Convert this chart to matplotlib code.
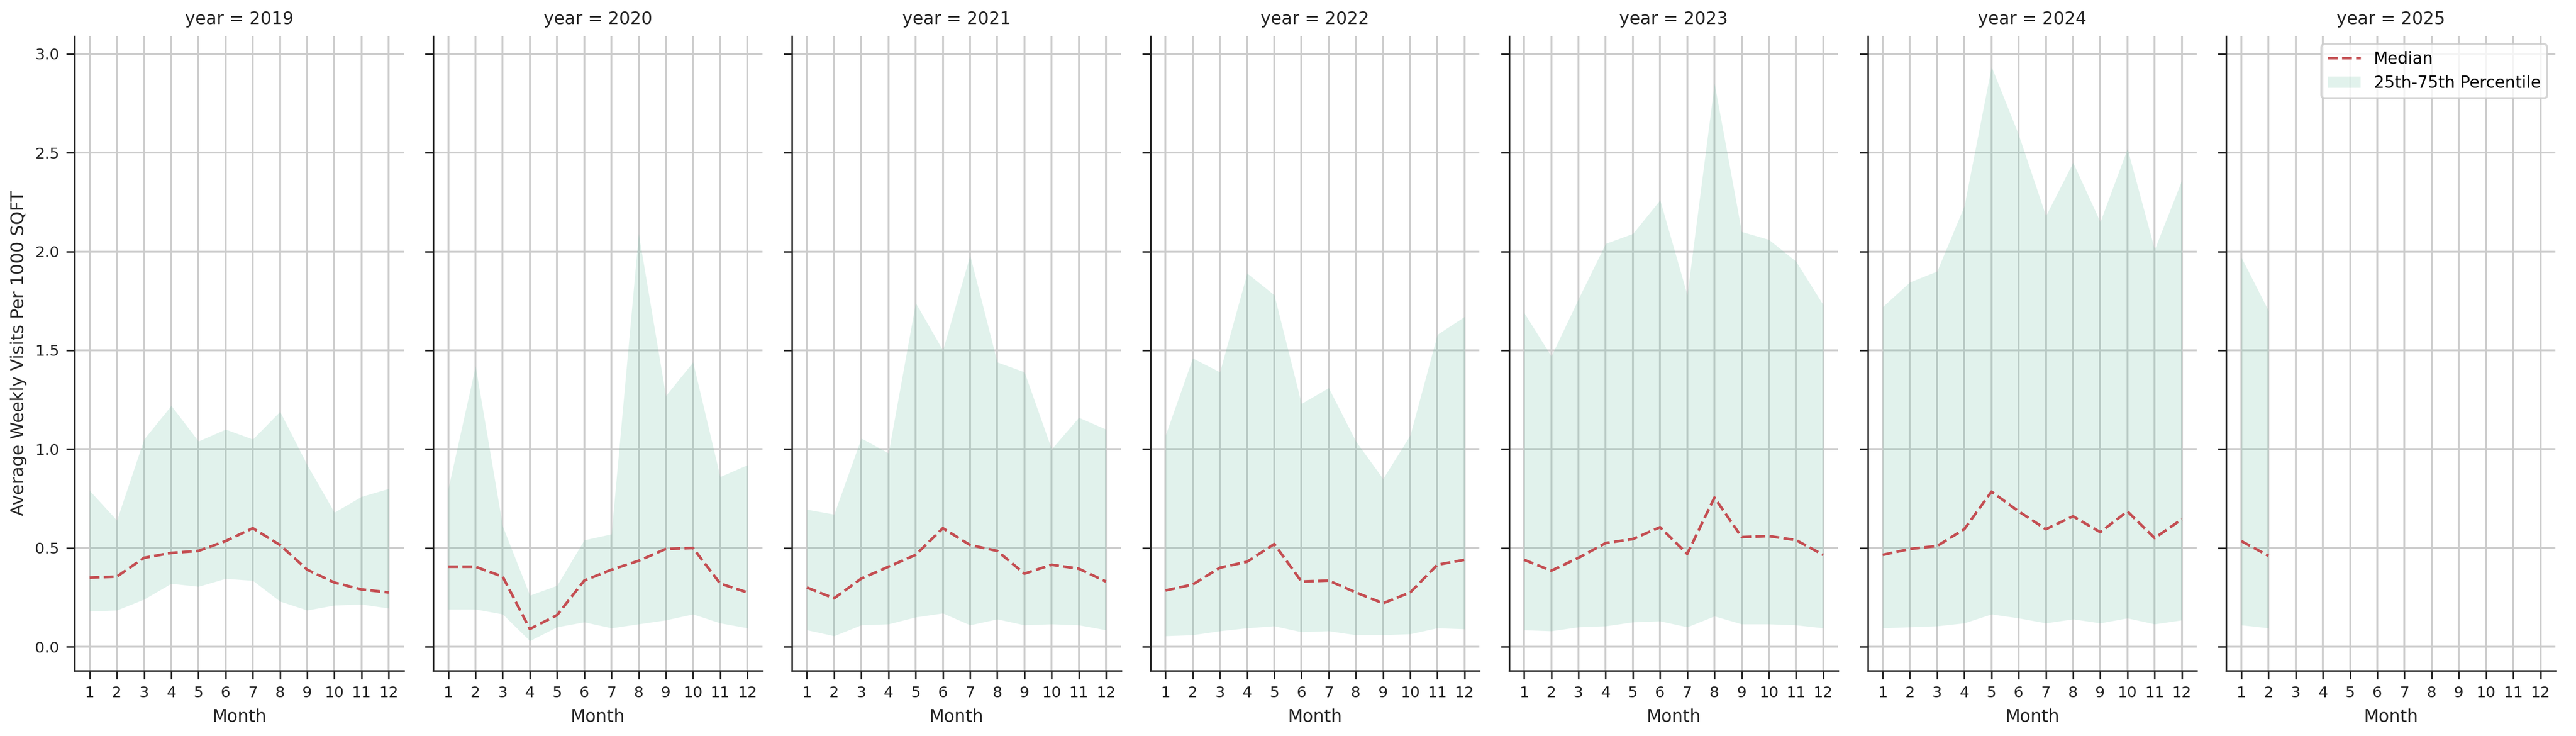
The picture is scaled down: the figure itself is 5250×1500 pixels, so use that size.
import numpy as np
import matplotlib.pyplot as plt

years = [2019, 2020, 2021, 2022, 2023, 2024, 2025]
months = list(range(1, 13))

median = {
    2019: [0.35, 0.355, 0.45, 0.475, 0.485, 0.535, 0.60, 0.515, 0.39, 0.325, 0.29, 0.275],
    2020: [0.405, 0.405, 0.355, 0.09, 0.16, 0.335, 0.39, 0.435, 0.495, 0.50, 0.32, 0.275],
    2021: [0.30, 0.245, 0.345, 0.405, 0.465, 0.60, 0.515, 0.485, 0.37, 0.415, 0.395, 0.33],
    2022: [0.285, 0.315, 0.40, 0.43, 0.52, 0.33, 0.335, 0.275, 0.22, 0.275, 0.415, 0.44],
    2023: [0.44, 0.385, 0.45, 0.525, 0.545, 0.605, 0.47, 0.755, 0.555, 0.56, 0.54, 0.465],
    2024: [0.465, 0.495, 0.51, 0.595, 0.785, 0.685, 0.595, 0.66, 0.58, 0.685, 0.55, 0.645],
    2025: [0.535, 0.46],
}
p25 = {
    2019: [0.18, 0.185, 0.24, 0.32, 0.305, 0.345, 0.335, 0.23, 0.185, 0.21, 0.215, 0.195],
    2020: [0.19, 0.19, 0.165, 0.03, 0.10, 0.125, 0.095, 0.115, 0.135, 0.165, 0.12, 0.095],
    2021: [0.085, 0.055, 0.11, 0.115, 0.15, 0.17, 0.11, 0.14, 0.11, 0.115, 0.11, 0.085],
    2022: [0.055, 0.06, 0.08, 0.095, 0.105, 0.075, 0.08, 0.06, 0.06, 0.065, 0.095, 0.09],
    2023: [0.085, 0.08, 0.10, 0.105, 0.125, 0.13, 0.10, 0.155, 0.115, 0.115, 0.11, 0.095],
    2024: [0.095, 0.10, 0.105, 0.12, 0.165, 0.145, 0.12, 0.14, 0.12, 0.145, 0.115, 0.135],
    2025: [0.11, 0.095],
}
p75 = {
    2019: [0.79, 0.64, 1.05, 1.22, 1.04, 1.10, 1.05, 1.19, 0.92, 0.68, 0.76, 0.80],
    2020: [0.80, 1.42, 0.61, 0.26, 0.31, 0.54, 0.57, 2.09, 1.27, 1.44, 0.86, 0.92],
    2021: [0.695, 0.67, 1.055, 0.98, 1.74, 1.50, 1.98, 1.44, 1.39, 1.00, 1.16, 1.10],
    2022: [1.07, 1.46, 1.39, 1.89, 1.78, 1.23, 1.31, 1.04, 0.85, 1.07, 1.58, 1.67],
    2023: [1.69, 1.47, 1.76, 2.04, 2.09, 2.26, 1.78, 2.85, 2.10, 2.06, 1.95, 1.73],
    2024: [1.72, 1.845, 1.90, 2.23, 2.935, 2.59, 2.18, 2.45, 2.15, 2.52, 2.01, 2.36],
    2025: [1.97, 1.70],
}

fig, axes = plt.subplots(1, 7, figsize=(17.5, 5), dpi=300, sharey=True)

for ax, yr in zip(axes, years):
    x = months[:len(median[yr])]
    ax.plot(x, median[yr], color="#c44e52", linestyle="--", linewidth=1.3,
            label="Median", zorder=3)
    ax.fill_between(x, p25[yr], p75[yr], color="#69c0a4", alpha=0.2,
                    linewidth=0, label="25th-75th Percentile")
    ax.set_title(f"year = {yr}", fontsize=8.5, color="#262626")
    ax.set_xlabel("Month", fontsize=8.5, color="#262626")
    ax.set_xticks(months)
    ax.set_xlim(0.45, 12.55)
    ax.set_ylim(-0.12, 3.09)
    ax.set_yticks([0, 0.5, 1.0, 1.5, 2.0, 2.5, 3.0])
    ax.grid(True, color="#cccccc", linewidth=0.9)
    ax.set_axisbelow(True)
    ax.tick_params(labelsize=7.5, colors="#262626", length=4)
    for s in ["top", "right"]:
        ax.spines[s].set_visible(False)
    for s in ["left", "bottom"]:
        ax.spines[s].set_color("#262626")

axes[0].set_ylabel("Average Weekly Visits Per 1000 SQFT", fontsize=8.5, color="#262626")
axes[-1].legend(loc="upper right", fontsize=8, framealpha=0.8)

plt.subplots_adjust(left=0.029, right=0.992, top=0.951, bottom=0.089, wspace=0.09)
plt.savefig("out.png", dpi=300)
